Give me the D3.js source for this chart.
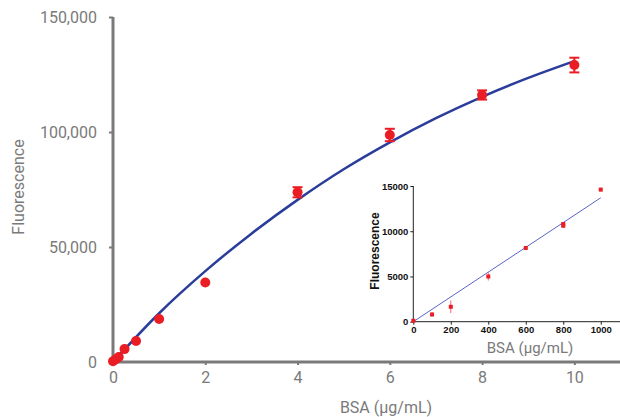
<!DOCTYPE html>
<meta charset="utf-8">
<style>
    body { margin: 0; background: #fff; }
    svg { display: block; }
    .main text { font-family: Roboto, sans-serif; fill: #7a7a7a; }
    .inset text { font-family: "Liberation Sans", Arial, sans-serif; font-weight: bold; fill: #111; }
</style>
<body>
<script src="https://cdn.jsdelivr.net/npm/d3@7"></script>
<script>

// main chart: BSA concentration (ug/mL) vs fluorescence
var bsa      = [0, 0.0625, 0.125, 0.25, 0.5, 1, 2, 4, 6, 8, 10];
var fluor    = [300, 1200, 2200, 5600, 9100, 18700, 34600, 73800, 98700, 116100, 129100];
var fluorErr = [0, 0, 0, 0, 0, 0, 0, 2200, 2700, 2000, 3200];

// fitted curve
var fitX = [0, 1, 2, 3, 4, 5, 6, 7, 8, 9, 10];
var fitY = [0, 21200, 39500, 55800, 70500, 83800, 95500, 106000, 115300, 123500, 130800];

var xTicks = [0, 2, 4, 6, 8, 10];
var yTicks = [0, 50000, 100000, 150000];

// inset: low range
var insetX   = [0, 100, 200, 400, 600, 800, 800, 1000];
var insetY   = [100, 800, 1650, 5000, 8150, 10800, 10600, 14600];
var insetErr = [150, 250, 700, 450, 100, 150, 150, 200];
var insetFitX = [0, 1000];
var insetFitY = [0, 13700];
var insetXTicks = [0, 200, 400, 600, 800, 1000];
var insetYTicks = [0, 5000, 10000, 15000];

var width = 620, height = 417;
var red = "#ea1c24", blue = "#2b3d9b", grey = "#7a7a7a";

var svg = d3.select("body").append("svg")
    .attr("width", width)
    .attr("height", height);

// ---- main chart ----
var g = svg.append("g").attr("class", "main");

var x = d3.scaleLinear().domain([0, 11]).range([113, 620.5]);
var y = d3.scaleLinear().domain([0, 150000]).range([362, 17]);

var xAxis = g.append("g")
    .attr("transform", "translate(0," + y(0) + ")")
    .call(d3.axisBottom(x).tickValues(xTicks).tickSize(3).tickPadding(7));
var yAxis = g.append("g")
    .attr("transform", "translate(" + x(0) + ",0)")
    .call(d3.axisLeft(y).tickValues(yTicks).tickSize(4).tickPadding(12)
        .tickFormat(d3.format(",")));

[xAxis, yAxis].forEach(function(a) {
    a.select(".domain").attr("stroke", grey).attr("stroke-width", 3);
    a.selectAll(".tick line").attr("stroke", grey).attr("stroke-width", 2);
    a.selectAll(".tick text").attr("fill", grey).style("font-size", "16px");
});
xAxis.select(".domain").attr("d", "M" + x(0) + ",0H" + width);
yAxis.select(".domain").attr("d", "M0," + y(0) + "V" + y(150000));

g.append("text")
    .attr("transform", "translate(24,187) rotate(-90)")
    .attr("text-anchor", "middle")
    .style("font-size", "16px")
    .text("Fluorescence");

g.append("text")
    .attr("x", 386).attr("y", 413)
    .attr("text-anchor", "middle")
    .style("font-size", "16px")
    .text("BSA (µg/mL)");

var fit = fitX.map(function(d, i) { return [d, fitY[i]]; });
g.append("path")
    .datum(fit)
    .attr("fill", "none")
    .attr("stroke", blue)
    .attr("stroke-width", 2.5)
    .attr("d", d3.line()
        .x(function(d) { return x(d[0]); })
        .y(function(d) { return y(d[1]); })
        .curve(d3.curveMonotoneX));

var pts = bsa.map(function(d, i) { return {x: d, y: fluor[i], e: fluorErr[i]}; });

var bars = g.selectAll(".err").data(pts.filter(function(d) { return d.e > 0; }))
    .enter().append("g")
    .attr("stroke", red).attr("stroke-width", 2);
bars.append("line")
    .attr("x1", function(d) { return x(d.x); }).attr("x2", function(d) { return x(d.x); })
    .attr("y1", function(d) { return y(d.y - d.e); }).attr("y2", function(d) { return y(d.y + d.e); });
bars.append("line")
    .attr("x1", function(d) { return x(d.x) - 5; }).attr("x2", function(d) { return x(d.x) + 5; })
    .attr("y1", function(d) { return y(d.y + d.e); }).attr("y2", function(d) { return y(d.y + d.e); });
bars.append("line")
    .attr("x1", function(d) { return x(d.x) - 5; }).attr("x2", function(d) { return x(d.x) + 5; })
    .attr("y1", function(d) { return y(d.y - d.e); }).attr("y2", function(d) { return y(d.y - d.e); });

g.selectAll("circle").data(pts)
    .enter().append("circle")
    .attr("cx", function(d) { return x(d.x); })
    .attr("cy", function(d) { return y(d.y); })
    .attr("r", 5)
    .attr("fill", red);

// ---- inset ----
var ins = svg.append("g").attr("class", "inset");

var ix = d3.scaleLinear().domain([0, 1100]).range([413.3, 619.5]);
var iy = d3.scaleLinear().domain([0, 15000]).range([321.7, 186]);

var ixAxis = ins.append("g")
    .attr("transform", "translate(0," + iy(0) + ")")
    .call(d3.axisBottom(ix).tickValues(insetXTicks).tickSize(3).tickPadding(2)
        .tickFormat(d3.format("d")));
var iyAxis = ins.append("g")
    .attr("transform", "translate(" + ix(0) + ",0)")
    .call(d3.axisLeft(iy).tickValues(insetYTicks).tickSize(3).tickPadding(2)
        .tickFormat(d3.format("d")));

[ixAxis, iyAxis].forEach(function(a) {
    a.select(".domain").attr("stroke", "#222").attr("stroke-width", 1);
    a.selectAll(".tick line").attr("stroke", "#222");
    a.selectAll(".tick text").attr("fill", "#111")
        .style("font-size", "9.5px")
        .style("font-family", "'Liberation Sans', Arial, sans-serif")
        .style("font-weight", "bold");
});
ixAxis.select(".domain").attr("d", "M" + ix(0) + ",0H" + width);
iyAxis.select(".domain").attr("d", "M0," + iy(0) + "V" + iy(15000));

ins.append("text")
    .attr("transform", "translate(379,251) rotate(-90)")
    .attr("text-anchor", "middle")
    .style("font-size", "12px")
    .text("Fluorescence");

ins.append("text")
    .attr("x", 530).attr("y", 353)
    .attr("text-anchor", "middle")
    .style("font-family", "Roboto, sans-serif")
    .style("font-weight", "normal")
    .style("font-size", "15px")
    .style("fill", grey)
    .text("BSA (µg/mL)");

ins.append("path")
    .datum(insetFitX.map(function(d, i) { return [d, insetFitY[i]]; }))
    .attr("fill", "none")
    .attr("stroke", "#5b63c8")
    .attr("stroke-width", 1)
    .attr("d", d3.line()
        .x(function(d) { return ix(d[0]); })
        .y(function(d) { return iy(d[1]); }));

var ipts = insetX.map(function(d, i) { return {x: d, y: insetY[i], e: insetErr[i]}; });

ins.selectAll(".ierr").data(ipts)
    .enter().append("line")
    .attr("stroke", "#f06a70").attr("stroke-width", 1)
    .attr("x1", function(d) { return ix(d.x); }).attr("x2", function(d) { return ix(d.x); })
    .attr("y1", function(d) { return iy(d.y - d.e); }).attr("y2", function(d) { return iy(d.y + d.e); });

ins.selectAll("rect").data(ipts)
    .enter().append("rect")
    .attr("x", function(d) { return ix(d.x) - 2; })
    .attr("y", function(d) { return iy(d.y) - 2; })
    .attr("width", 4).attr("height", 4)
    .attr("fill", red);

</script>
</body>
